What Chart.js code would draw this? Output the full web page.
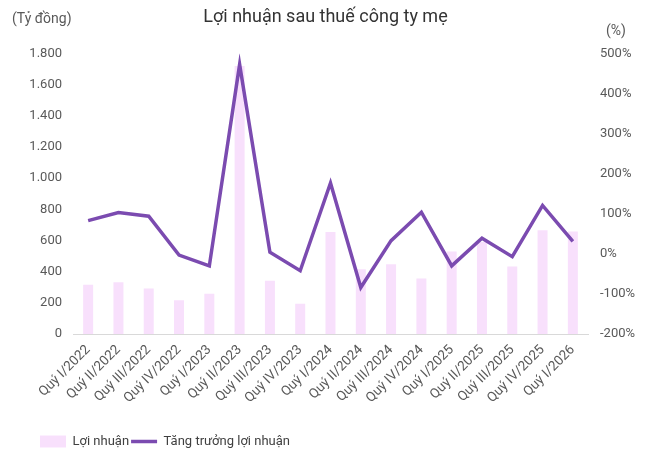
<!DOCTYPE html>
<html>
<head>
<meta charset="utf-8">
<script src="https://cdn.jsdelivr.net/npm/chart.js@4"></script>
<style>
    body { margin: 0; background: #fff; }
    canvas { display: block; }
</style>
</head>
<body>
<canvas id="chart" width="651" height="451"></canvas>
<script>
const quarters = ['Quý I/2022', 'Quý II/2022', 'Quý III/2022', 'Quý IV/2022',
    'Quý I/2023', 'Quý II/2023', 'Quý III/2023', 'Quý IV/2023',
    'Quý I/2024', 'Quý II/2024', 'Quý III/2024', 'Quý IV/2024',
    'Quý I/2025', 'Quý II/2025', 'Quý III/2025', 'Quý IV/2025', 'Quý I/2026'];
const profit = [316, 333, 292, 217, 258, 1720, 342, 194, 655, 415, 447, 357, 530, 590, 434, 666, 658];
const growth = [83, 103, 94, -3, -30, 473, 4, -42, 177, -84, 33, 104, -30, 39, -7, 121, 31];

const FONT = 'Roboto, "Noto Sans", sans-serif';
const GREY = '#595959';

// unit labels above each y axis
const unitLabels = {
    id: 'unitLabels',
    afterDraw(chart) {
        const ctx = chart.ctx;
        ctx.save();
        ctx.fillStyle = GREY;
        ctx.font = '14px ' + FONT;
        ctx.textBaseline = 'middle';
        ctx.textAlign = 'left';
        ctx.fillText('(Tỷ đồng)', 12, 19);
        ctx.fillText('(%)', 606, 31);
        ctx.restore();
    }
};

// nudge the legend right so it starts under the axis labels
const legendShift = {
    id: 'legendShift',
    afterLayout(chart) {
        chart.legend.left += 38;
        chart.legend.right += 38;
    }
};

function thousands(v) {
    return String(v).replace(/\B(?=(\d{3})+(?!\d))/g, '.');
}

new Chart(document.getElementById('chart'), {
    type: 'bar',
    data: {
        labels: quarters,
        datasets: [{
            label: 'Lợi nhuận',
            data: profit,
            backgroundColor: '#f8e0fc',
            borderWidth: 0,
            barPercentage: 0.33,
            categoryPercentage: 1,
            yAxisID: 'y',
            pointStyle: 'rect',
            order: 2
        }, {
            type: 'line',
            label: 'Tăng trưởng lợi nhuận',
            data: growth,
            borderColor: '#7b4bb0',
            backgroundColor: '#7b4bb0',
            borderWidth: 3.5,
            pointRadius: 0,
            tension: 0,
            yAxisID: 'y1',
            pointStyle: 'line',
            order: 1
        }]
    },
    options: {
        responsive: false,
        animation: false,
        devicePixelRatio: 1,
        // negative bottom lets the legend sit closer to the canvas edge
        layout: { padding: { left: 0, right: 0, top: 0, bottom: -7 } },
        scales: {
            x: {
                grid: { display: false },
                border: { color: '#d9d9d9' },
                ticks: {
                    color: GREY,
                    font: { family: FONT, size: 13.5 },
                    maxRotation: 45,
                    minRotation: 45,
                    autoSkip: false,
                    padding: 0
                },
                afterFit: function (scale) { scale.height = 99; }
            },
            y: {
                position: 'left',
                min: 0,
                max: 1800,
                grid: { display: false },
                border: { display: false },
                ticks: {
                    stepSize: 200,
                    color: GREY,
                    font: { family: FONT, size: 13 },
                    padding: 3,
                    callback: v => thousands(v)
                },
                afterFit: function (scale) { scale.width = 73; }
            },
            y1: {
                position: 'right',
                min: -200,
                max: 500,
                grid: { display: false },
                border: { display: false },
                ticks: {
                    stepSize: 100,
                    color: GREY,
                    font: { family: FONT, size: 13 },
                    padding: 4,
                    callback: v => v + '%'
                },
                afterFit: function (scale) { scale.width = 63; }
            }
        },
        plugins: {
            title: {
                display: true,
                text: 'Lợi nhuận sau thuế công ty mẹ',
                color: '#333333',
                font: { family: FONT, size: 18, weight: 'normal' },
                padding: { top: 7, bottom: 25 }
            },
            legend: {
                position: 'bottom',
                align: 'start',
                labels: {
                    usePointStyle: true,
                    pointStyleWidth: 26,
                    boxHeight: 12,
                    color: '#404040',
                    font: { family: FONT, size: 13 },
                    padding: 2,
                    sort: (a, b) => a.datasetIndex - b.datasetIndex
                }
            },
            tooltip: { enabled: false }
        }
    },
    plugins: [unitLabels, legendShift]
});
</script>
</body>
</html>
